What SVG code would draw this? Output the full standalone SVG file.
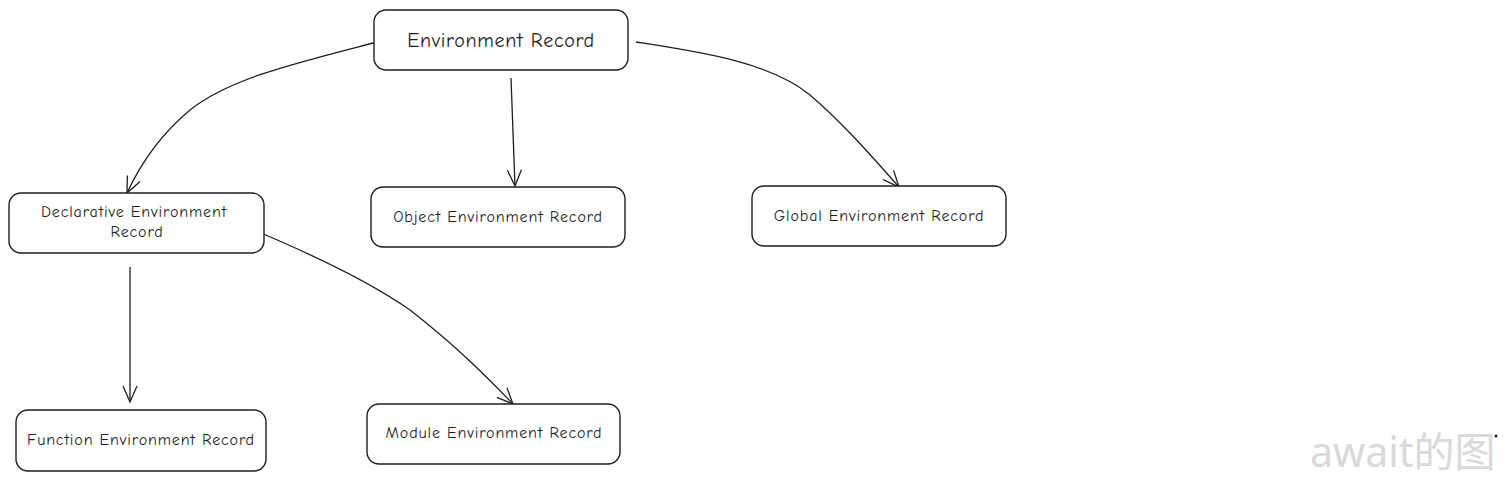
<svg xmlns="http://www.w3.org/2000/svg" width="1506" height="482" viewBox="0 0 1506 482">
<defs>
<style>
.box{fill:#fff;stroke:#1e1e1e;stroke-width:1.4}
.lbl{font-family:"Comic Neue","Liberation Sans",sans-serif;fill:#1e1e1e;text-anchor:middle}
.s{font-size:16px;letter-spacing:0.85px}
.b{font-size:20px;letter-spacing:0.7px}
.edge{fill:none;stroke:#1e1e1e;stroke-width:1.3}
.wm{font-family:"Noto Sans","Noto Sans CJK SC",sans-serif;font-size:41px;fill:#d9d9d9}
</style>
<marker id="arr" viewBox="0 0 20 20" refX="18" refY="10" markerWidth="20" markerHeight="20" markerUnits="userSpaceOnUse" orient="auto">
<path d="M2,3 L18,10 L2,17" fill="none" stroke="#1e1e1e" stroke-width="1.3"/>
</marker>
</defs>
<rect width="1506" height="482" fill="#fff"/>
<g id="connectors">
<path class="edge" marker-end="url(#arr)" d="M377,42 C300,62 230,78 190,110 C160,135 140,165 127,193"/>
<path class="edge" marker-end="url(#arr)" d="M511,78 L515,186"/>
<path class="edge" marker-end="url(#arr)" d="M636,42 C700,52 770,62 810,95 C845,125 875,160 899,187"/>
<path class="edge" marker-end="url(#arr)" d="M130,267 L130,402"/>
<path class="edge" marker-end="url(#arr)" d="M261,233 C320,258 370,282 410,310 C455,345 485,375 513,404"/>
</g>
<g id="n-env">
<rect class="box" x="374" y="10" width="254" height="60" rx="12"/>
<text class="lbl b" x="501" y="47">Environment Record</text>
</g>
<g id="n-decl">
<rect class="box" x="9" y="193" width="255" height="60" rx="12"/>
<text class="lbl s" x="134" y="217">Declarative Environment</text>
<text class="lbl s" x="137" y="237">Record</text>
</g>
<g id="n-obj">
<rect class="box" x="371" y="187" width="254" height="60" rx="12"/>
<text class="lbl s" x="498" y="222">Object Environment Record</text>
</g>
<g id="n-glob">
<rect class="box" x="752" y="186" width="254" height="60" rx="12"/>
<text class="lbl s" x="879" y="221">Global Environment Record</text>
</g>
<g id="n-func">
<rect class="box" x="16" y="410" width="250" height="61" rx="12"/>
<text class="lbl s" x="141" y="445">Function Environment Record</text>
</g>
<g id="n-mod">
<rect class="box" x="367" y="404" width="253" height="60" rx="12"/>
<text class="lbl s" x="494" y="438">Module Environment Record</text>
</g>
<g id="watermark">
<text class="wm" x="1311" y="468" style="fill:#ffffff">await的图</text>
<text class="wm" x="1310" y="467">await的图</text>
<circle cx="1496" cy="436" r="1.5" fill="#1e1e1e"/>
</g>
</svg>
